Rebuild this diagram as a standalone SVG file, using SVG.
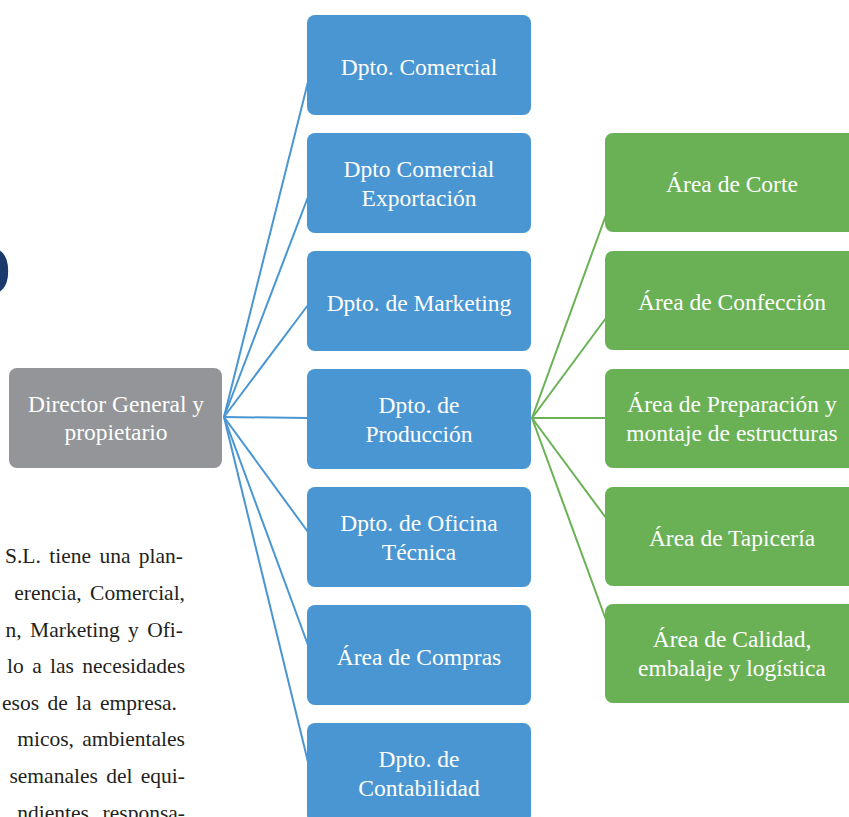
<svg xmlns="http://www.w3.org/2000/svg" width="849" height="817" viewBox="0 0 849 817">
<style>
  .blue{fill:#4a96d2}
  .green{fill:#6ab155}
  .gray{fill:#939598}
  .lbl{font-family:"Liberation Serif","Times New Roman",serif;font-size:23.5px;fill:#ffffff;text-anchor:middle}
  .para{font-family:"Liberation Serif","Times New Roman",serif;font-size:21.5px;fill:#231f20;text-anchor:end;word-spacing:3px}
  .cb{stroke:#4a96d2;stroke-width:2;fill:none}
  .cg{stroke:#6ab155;stroke-width:2;fill:none}
</style>
<rect width="849" height="817" fill="#ffffff"/>
<text x="-38" y="294" font-family="'Liberation Serif','Times New Roman',serif" font-size="100" fill="#1b3a6b">o</text>
<g id="paragraph" class="para">
  <text x="183" y="563">S.L. tiene una plan-</text>
  <text x="185" y="600">erencia, Comercial,</text>
  <text x="183" y="637">n, Marketing y Ofi-</text>
  <text x="185" y="673">lo a las necesidades</text>
  <text x="177" y="710">esos de la empresa.</text>
  <text x="185" y="746">micos, ambientales</text>
  <text x="185" y="783">semanales del equi-</text>
  <text x="185" y="820">ndientes, responsa-</text>
</g>
<g id="connectors">
  <line class="cb" x1="224" y1="417" x2="308" y2="82"/>
  <line class="cb" x1="224" y1="417" x2="308" y2="197"/>
  <line class="cb" x1="224" y1="417" x2="308" y2="305"/>
  <line class="cb" x1="224" y1="417" x2="308" y2="418"/>
  <line class="cb" x1="224" y1="417" x2="308" y2="532"/>
  <line class="cb" x1="224" y1="417" x2="308" y2="645"/>
  <line class="cb" x1="224" y1="417" x2="308" y2="762"/>
  <line class="cg" x1="532" y1="418" x2="606" y2="215"/>
  <line class="cg" x1="532" y1="418" x2="606" y2="318"/>
  <line class="cg" x1="532" y1="418" x2="606" y2="418"/>
  <line class="cg" x1="532" y1="418" x2="606" y2="518"/>
  <line class="cg" x1="532" y1="418" x2="606" y2="620"/>
</g>
<g id="director">
  <rect class="gray" x="9" y="368" width="213" height="100" rx="8"/>
  <text class="lbl" x="116" y="412">Director General y</text>
  <text class="lbl" x="116" y="440">propietario</text>
</g>
<g id="comercial">
  <rect class="blue" x="307" y="15" width="224" height="100" rx="8"/>
  <text class="lbl" x="419" y="75">Dpto. Comercial</text>
</g>
<g id="exportacion">
  <rect class="blue" x="307" y="133" width="224" height="100" rx="8"/>
  <text class="lbl" x="419" y="177">Dpto Comercial</text>
  <text class="lbl" x="419" y="206">Exportación</text>
</g>
<g id="marketing">
  <rect class="blue" x="307" y="251" width="224" height="100" rx="8"/>
  <text class="lbl" x="419" y="311">Dpto. de Marketing</text>
</g>
<g id="produccion">
  <rect class="blue" x="307" y="369" width="224" height="100" rx="8"/>
  <text class="lbl" x="419" y="413">Dpto. de</text>
  <text class="lbl" x="419" y="442">Producción</text>
</g>
<g id="oficina">
  <rect class="blue" x="307" y="487" width="224" height="100" rx="8"/>
  <text class="lbl" x="419" y="531">Dpto. de Oficina</text>
  <text class="lbl" x="419" y="560">Técnica</text>
</g>
<g id="compras">
  <rect class="blue" x="307" y="605" width="224" height="100" rx="8"/>
  <text class="lbl" x="419" y="665">Área de Compras</text>
</g>
<g id="contabilidad">
  <rect class="blue" x="307" y="723" width="224" height="100" rx="8"/>
  <text class="lbl" x="419" y="767">Dpto. de</text>
  <text class="lbl" x="419" y="796">Contabilidad</text>
</g>
<g id="corte">
  <rect class="green" x="605" y="133" width="260" height="99" rx="8"/>
  <text class="lbl" x="732" y="192">Área de Corte</text>
</g>
<g id="confeccion">
  <rect class="green" x="605" y="251" width="260" height="99" rx="8"/>
  <text class="lbl" x="732" y="310">Área de Confección</text>
</g>
<g id="preparacion">
  <rect class="green" x="605" y="369" width="260" height="99" rx="8"/>
  <text class="lbl" x="732" y="412">Área de Preparación y</text>
  <text class="lbl" x="732" y="441">montaje de estructuras</text>
</g>
<g id="tapiceria">
  <rect class="green" x="605" y="487" width="260" height="99" rx="8"/>
  <text class="lbl" x="732" y="546">Área de Tapicería</text>
</g>
<g id="calidad">
  <rect class="green" x="605" y="604" width="260" height="99" rx="8"/>
  <text class="lbl" x="732" y="647">Área de Calidad,</text>
  <text class="lbl" x="732" y="676">embalaje y logística</text>
</g>
</svg>
